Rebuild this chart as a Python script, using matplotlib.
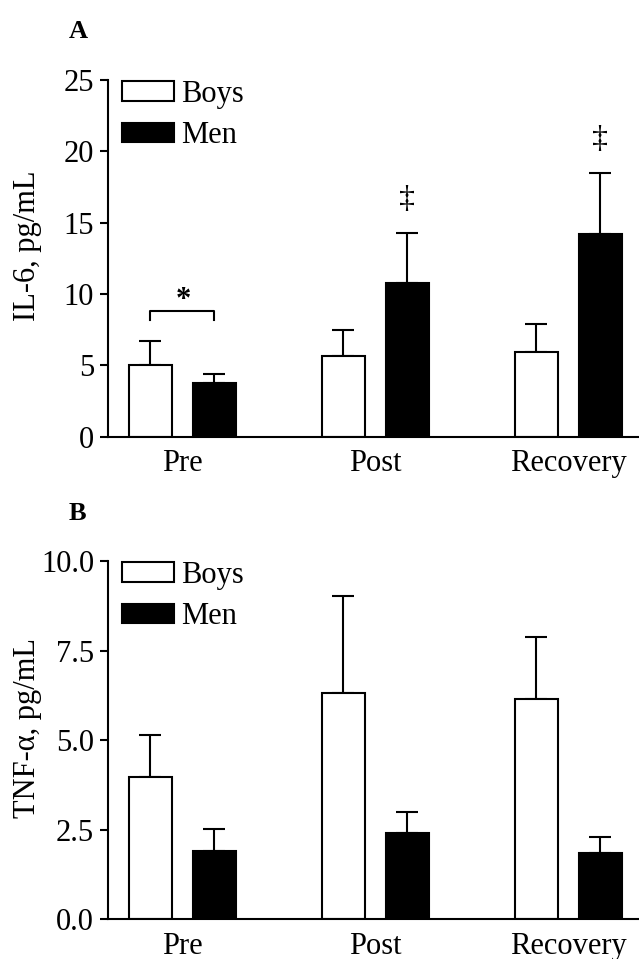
import numpy as np
import matplotlib
matplotlib.use('Agg')
import matplotlib.pyplot as plt
from matplotlib.patches import Patch

plt.rcParams['font.family'] = ['Liberation Serif', 'DejaVu Serif']

# Datos
grupos = ['Pre', 'Post', 'Recovery']
il6_boys = [5.05, 5.63, 5.96]
il6_boys_err = [1.65, 1.87, 1.91]
il6_men = [3.72, 10.8, 14.2]
il6_men_err = [0.65, 3.48, 4.3]
tnf_boys = [3.98, 6.31, 6.16]
tnf_boys_err = [1.17, 2.72, 1.73]
tnf_men = [1.92, 2.42, 1.84]
tnf_men_err = [0.59, 0.58, 0.46]

yticks_a = [0, 5, 10, 15, 20, 25]
yticks_b = [0.0, 2.5, 5.0, 7.5, 10.0]

x = np.arange(len(grupos))
ancho = 0.223
desp = 0.166
lw = 1.5
fs = 22


def panel(ax, boys, boys_err, men, men_err, ylim, yticks, ytlabels, ylabel):
    ax.bar(x - desp, boys, ancho, color='white', edgecolor='black', linewidth=lw, zorder=2)
    ax.bar(x + desp, men, ancho, color='black', edgecolor='black', linewidth=lw, zorder=2)
    ax.errorbar(x - desp, boys, yerr=[np.zeros(3), boys_err], fmt='none', ecolor='black',
                elinewidth=lw, capsize=8, capthick=lw, zorder=1)
    ax.errorbar(x + desp, men, yerr=[np.zeros(3), men_err], fmt='none', ecolor='black',
                elinewidth=lw, capsize=8, capthick=lw, zorder=1)
    ax.set_xlim(-0.386, 2.368)
    ax.set_ylim(*ylim)
    ax.set_yticks(yticks)
    ax.set_yticklabels(ytlabels)
    ax.set_xticks(x)
    ax.set_xticklabels(grupos)
    ax.spines['top'].set_visible(False)
    ax.spines['right'].set_visible(False)
    ax.spines['left'].set_linewidth(lw)
    ax.spines['bottom'].set_linewidth(lw)
    ax.tick_params(axis='y', length=6, width=lw, pad=4, labelsize=fs)
    ax.tick_params(axis='x', length=0, pad=9, labelsize=fs)
    ax.set_ylabel(ylabel, fontsize=fs)
    ax.yaxis.set_label_coords(-0.125, 0.535)
    handles = [Patch(facecolor='white', edgecolor='black', linewidth=lw, label='Boys'),
               Patch(facecolor='black', edgecolor='black', linewidth=lw, label='Men')]
    ax.legend(handles=handles, loc='upper left', bbox_to_anchor=(0.026, 1.0), frameon=False,
              fontsize=fs, handlelength=1.7, handleheight=0.62, handletextpad=0.25,
              labelspacing=0.4, borderaxespad=0, borderpad=0)


fig = plt.figure(figsize=(6.39, 9.59), dpi=100)
ax1 = fig.add_axes([0.169, 0.5448, 0.831, 0.3718])
ax2 = fig.add_axes([0.169, 0.0414, 0.831, 0.3736])

panel(ax1, il6_boys, il6_boys_err, il6_men, il6_men_err, (0, 25), yticks_a,
      [str(v) for v in yticks_a], 'IL-6, pg/mL')
panel(ax2, tnf_boys, tnf_boys_err, tnf_men, tnf_men_err, (0, 10), yticks_b,
      ['%.1f' % v for v in yticks_b], 'TNF-α, pg/mL')

# Significancia panel A
ax1.plot([-desp, -desp, desp, desp], [8.15, 8.78, 8.78, 8.15], color='black', lw=lw)
ax1.text(0.005, 8.55, '*', ha='center', va='bottom', fontsize=22, fontweight='bold')
for i in [1, 2]:
    ax1.text(x[i] + desp, il6_men[i] + il6_men_err[i] + 2.35, '‡', ha='center',
             va='center', fontsize=23)

fig.text(69 / 639, 1 - 38 / 959, 'A', fontsize=19, fontweight='bold', va='baseline')
fig.text(69 / 639, 1 - 520 / 959, 'B', fontsize=19, fontweight='bold', va='baseline')

fig.savefig('out.png', dpi=100)
